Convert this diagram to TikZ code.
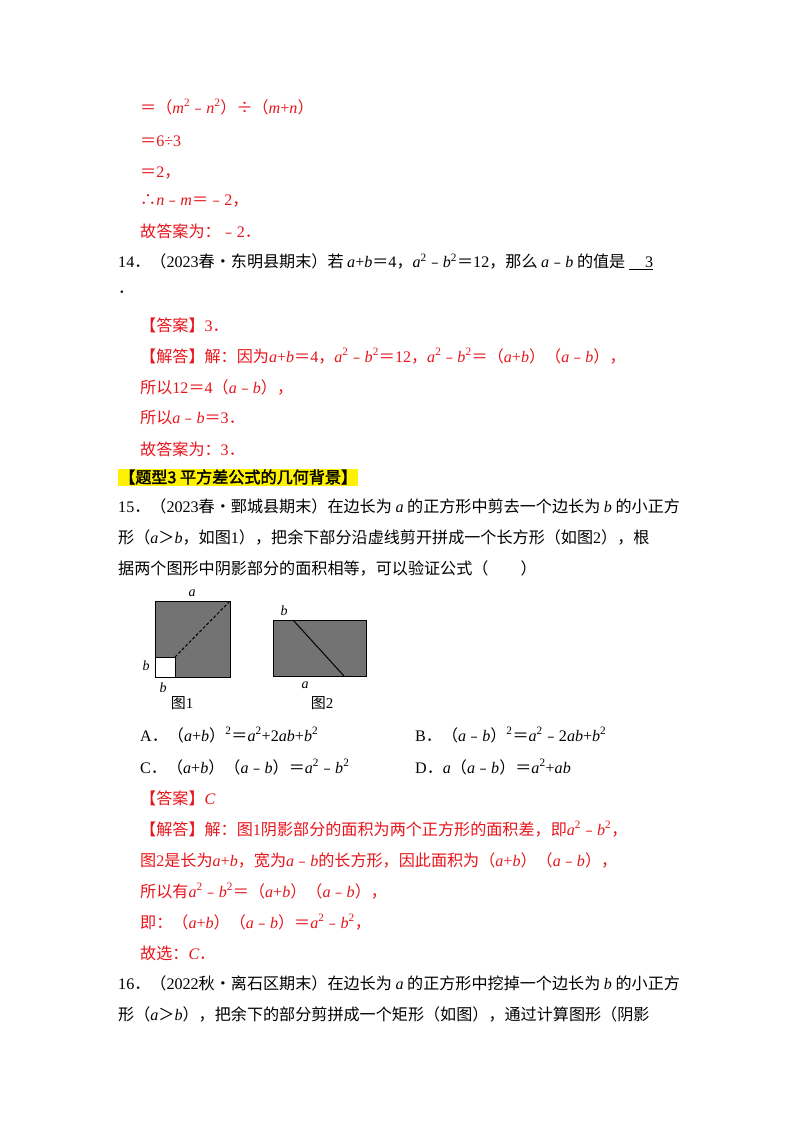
\documentclass[tikz,border=0pt]{standalone}
\usepackage{fontspec}
\setmainfont{Liberation Serif}
\newfontfamily\cjk{Noto Sans CJK SC}
\newfontfamily\cjkb{Noto Sans CJK SC}[FakeBold=2]
\newcommand\zh[1]{{\cjk #1}}
\newcommand\vi[1]{{\itshape #1}}
\newcommand\tw{\textsuperscript{2}}
\newcommand\mi{\zh{﹣}}
\newcommand\eq{\zh{＝}}
\definecolor{ans}{HTML}{E8141B}
\definecolor{shade}{HTML}{737373}
\begin{document}
\begin{tikzpicture}[x=1pt,y=-1pt,
  ln/.style={anchor=west,inner sep=0pt,font=\fontsize{16.1}{19}\selectfont},
  rd/.style={ln,text=ans},
  lb/.style={inner sep=0pt,font=\fontsize{14}{16}\selectfont\itshape}]
\useasboundingbox[fill=white] (0,0) rectangle (800,1132);
\node[rd] (l1) at (140,107) {\zh{＝（}\vi{m}\tw\mi\vi{n}\tw\zh{）÷（}\vi{m}+\vi{n}\zh{）}};
\node[rd] (l2) at (140,141) {\eq 6÷3};
\node[rd] (l3) at (140,173) {\eq 2\zh{，}};
\node[rd] (l4) at (140,201) {\zh{∴}\vi{n}\mi\vi{m}\zh{＝﹣}2\zh{，}};
\node[rd] (l5) at (140,231) {\zh{故答案为：﹣}2\zh{．}};
\node[ln] (q14) at (118,262) {14\zh{．（}2023\zh{春•东明县期末）若 }\vi{a}+\vi{b}\eq 4\zh{，}\vi{a}\tw\mi\vi{b}\tw\eq 12\zh{，那么 }\vi{a}\mi\vi{b}\zh{ 的值是 }\underline{\ \ \ \ 3}};
\node[ln] (q14b) at (118,292) {\zh{．}};
\node[rd] (a1) at (140,325) {\zh{【答案】}3\zh{．}};
\node[rd] (a2) at (140,356) {\zh{【解答】解：因为}\vi{a}+\vi{b}\eq 4\zh{，}\vi{a}\tw\mi\vi{b}\tw\eq 12\zh{，}\vi{a}\tw\mi\vi{b}\tw\zh{＝（}\vi{a}+\vi{b}\zh{）（}\vi{a}\mi\vi{b}\zh{），}};
\node[rd] (a3) at (140,387) {\zh{所以}12\eq 4\zh{（}\vi{a}\mi\vi{b}\zh{），}};
\node[rd] (a4) at (140,418) {\zh{所以}\vi{a}\mi\vi{b}\eq 3\zh{．}};
\node[rd] (a5) at (140,449) {\zh{故答案为：}3\zh{．}};
\node[ln,fill=yellow,inner sep=1pt] (hd) at (118,477) {\cjkb 【题型3 平方差公式的几何背景】};
\node[ln] (q15a) at (118,506) {15\zh{．（}2023\zh{春•鄄城县期末）在边长为 }\vi{a}\zh{ 的正方形中剪去一个边长为 }\vi{b}\zh{ 的小正方}};
\node[ln] (q15b) at (118,537) {\zh{形（}\vi{a}\zh{＞}\vi{b}\zh{，如图}1\zh{），把余下部分沿虚线剪开拼成一个长方形（如图}2\zh{），根}};
\node[ln] (q15c) at (118,568) {\zh{据两个图形中阴影部分的面积相等，可以验证公式（　　）}};
% figure 1
\draw[fill=shade,line width=0.9pt] (155,601) rectangle (230,677);
\draw[fill=white,line width=0.6pt] (155,657) rectangle (175,677);
\coordinate (d1) at (175,657); \coordinate (d2) at (230,601);
\draw[dash pattern=on 3pt off 2pt,line width=1pt] (d1) -- (d2);
\node[lb] (fa) at (192,593) {a};
\node[lb] (fb1) at (146,666) {b};
\node[lb] (fb2) at (163,688) {b};
\node[ln,anchor=center,font=\fontsize{15}{17}\selectfont] (f1) at (182,703) {\zh{图}1};
% figure 2
\draw[fill=shade,line width=0.9pt] (273,620) rectangle (366,676);
\coordinate (e1) at (293,620); \coordinate (e2) at (344,676);
\draw[line width=1pt] (e1) -- (e2);
\node[lb] (gb) at (284,611) {b};
\node[lb] (ga) at (305,685) {a};
\node[ln,anchor=center,font=\fontsize{15}{17}\selectfont] (f2) at (322,703) {\zh{图}2};
% options
\node[ln] (oa) at (140,735) {A\zh{．（}\vi{a}+\vi{b}\zh{）}\tw\eq\vi{a}\tw+2\vi{ab}+\vi{b}\tw};
\node[ln] (ob) at (415,735) {B\zh{．（}\vi{a}\mi\vi{b}\zh{）}\tw\eq\vi{a}\tw\mi 2\vi{ab}+\vi{b}\tw};
\node[ln] (oc) at (140,767) {C\zh{．（}\vi{a}+\vi{b}\zh{）（}\vi{a}\mi\vi{b}\zh{）}\eq\vi{a}\tw\mi\vi{b}\tw};
\node[ln] (od) at (415,767) {D\zh{．}\vi{a}\zh{（}\vi{a}\mi\vi{b}\zh{）}\eq\vi{a}\tw+\vi{ab}};
\node[rd] (b1) at (140,798) {\zh{【答案】}\vi{C}};
\node[rd] (b2) at (140,829) {\zh{【解答】解：图}1\zh{阴影部分的面积为两个正方形的面积差，即}\vi{a}\tw\mi\vi{b}\tw\zh{，}};
\node[rd] (b3) at (140,860) {\zh{图}2\zh{是长为}\vi{a}+\vi{b}\zh{，宽为}\vi{a}\mi\vi{b}\zh{的长方形，因此面积为（}\vi{a}+\vi{b}\zh{）（}\vi{a}\mi\vi{b}\zh{），}};
\node[rd] (b4) at (140,891) {\zh{所以有}\vi{a}\tw\mi\vi{b}\tw\zh{＝（}\vi{a}+\vi{b}\zh{）（}\vi{a}\mi\vi{b}\zh{），}};
\node[rd] (b5) at (140,922) {\zh{即：（}\vi{a}+\vi{b}\zh{）（}\vi{a}\mi\vi{b}\zh{）}\eq\vi{a}\tw\mi\vi{b}\tw\zh{，}};
\node[rd] (b6) at (140,953) {\zh{故选：}\vi{C}\zh{．}};
\node[ln] (q16a) at (118,983) {16\zh{．（}2022\zh{秋•离石区期末）在边长为 }\vi{a}\zh{ 的正方形中挖掉一个边长为 }\vi{b}\zh{ 的小正方}};
\node[ln] (q16b) at (118,1014) {\zh{形（}\vi{a}\zh{＞}\vi{b}\zh{），把余下的部分剪拼成一个矩形（如图），通过计算图形（阴影}};
\end{tikzpicture}
\end{document}
